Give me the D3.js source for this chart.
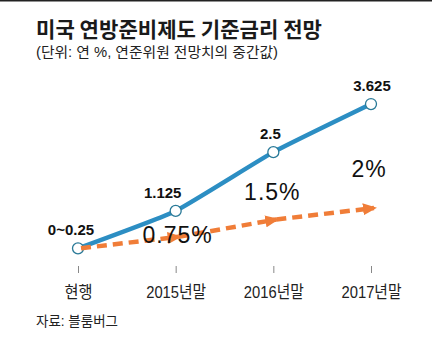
<!DOCTYPE html>
<html>
<head>
<meta charset="utf-8">
<script src="https://cdn.jsdelivr.net/npm/d3@7"></script>
<style>
  body { margin: 0; background: #fff; }
  svg { display: block; }
</style>
</head>
<body>
<svg id="chart" width="432" height="337"></svg>
<script>
// data
var categories = ["현행", "2015년말", "2016년말", "2017년말"];
var fedValues = [0.25, 1.125, 2.5, 3.625];
var fedLabels = ["0~0.25", "1.125", "2.5", "3.625"];
var marketValues = [0.25, 0.75, 1.5, 2];
var marketLabels = ["", "0.75%", "1.5%", "2%"];

var title = "미국 연방준비제도 기준금리 전망";
var subtitle = "(단위: 연 %, 연준위원 전망치의 중간값)";
var source = "자료: 블룸버그";

var svg = d3.select("#chart");
var kfont = "'Liberation Sans', 'Noto Sans CJK KR', sans-serif";
var blue = "#2c8ec3";
var orange = "#f07d38";

svg.append("rect").attr("width", 432).attr("height", 1.5).attr("fill", "#222");

svg.append("text").attr("x", 36).attr("y", 37)
    .attr("textLength", 286).attr("lengthAdjust", "spacingAndGlyphs")
    .style("font-family", "'Noto Sans CJK KR', sans-serif")
    .style("font-weight", "700").style("font-size", "21px").style("fill", "#1a1a1a")
    .text(title);

svg.append("text").attr("x", 36).attr("y", 57)
    .attr("textLength", 242).attr("lengthAdjust", "spacingAndGlyphs")
    .style("font-family", kfont).style("font-size", "14px").style("fill", "#222")
    .text(subtitle);

var x = d3.scalePoint().domain(categories).range([78, 371]);
var y = d3.scaleLinear().domain([0, 4]).range([259, 88]);
var yMarket = d3.scaleLinear().domain([0, 2]).range([254, 208]);

// x axis: ticks only
var xAxis = svg.append("g").attr("transform", "translate(0,266)")
    .call(d3.axisBottom(x).tickSize(7).tickPadding(13));
xAxis.select(".domain").remove();
xAxis.selectAll("line").attr("stroke", "#888");
xAxis.selectAll("text")
    .attr("textLength", (d, i) => i == 0 ? 28 : 60).attr("lengthAdjust", "spacingAndGlyphs")
    .style("font-family", kfont).style("font-size", "17px").style("fill", "#222");

svg.append("text").attr("x", 36).attr("y", 326)
    .attr("textLength", 82).attr("lengthAdjust", "spacingAndGlyphs")
    .style("font-family", kfont).style("font-size", "14px").style("fill", "#222")
    .text(source);

// fed line
var line = d3.line()
    .x((d, i) => x(categories[i]))
    .y(d => y(d))
    .curve(d3.curveCardinal.tension(0.6));

svg.append("path").datum(fedValues)
    .attr("d", line)
    .attr("fill", "none").attr("stroke", blue).attr("stroke-width", 4.5);

svg.selectAll(".pt").data(fedValues).enter().append("circle")
    .attr("class", "pt")
    .attr("cx", (d, i) => x(categories[i]))
    .attr("cy", d => y(d))
    .attr("r", 5.5)
    .attr("fill", "#fff").attr("stroke", "#2a7a98").attr("stroke-width", 1.3);

var fedDx = [-7, -13, -3, 1];
svg.selectAll(".fl").data(fedLabels).enter().append("text")
    .attr("class", "fl")
    .attr("x", (d, i) => x(categories[i]) + fedDx[i])
    .attr("y", (d, i) => y(fedValues[i]) - 13)
    .attr("text-anchor", "middle")
    .style("font-family", kfont).style("font-weight", "700").style("font-size", "15px")
    .style("fill", "#111")
    .text(d => d);

// market expectation arrows
svg.append("defs").append("marker")
    .attr("id", "arrow").attr("markerUnits", "userSpaceOnUse")
    .attr("viewBox", "0 -6 14 12").attr("refX", 11).attr("refY", 0)
    .attr("markerWidth", 14).attr("markerHeight", 12).attr("orient", "auto")
    .append("path").attr("d", "M0,-6L14,0L0,6Z").attr("fill", orange);

var segs = d3.pairs(marketValues.map((v, i) => [x(categories[i]) + 3, yMarket(v)]));
svg.selectAll(".seg").data(segs).enter().append("path")
    .attr("class", "seg")
    .attr("d", d => d3.line()(d))
    .attr("fill", "none").attr("stroke", orange).attr("stroke-width", 4.5)
    .attr("stroke-dasharray", "10,6")
    .attr("marker-end", "url(#arrow)");

var mkDx = [0, 2, -1, -2];
var mkDy = [0, 6, -20, -31];
svg.selectAll(".ml").data(marketLabels).enter().append("text")
    .attr("class", "ml")
    .attr("x", (d, i) => x(categories[i]) + mkDx[i])
    .attr("y", (d, i) => yMarket(marketValues[i]) + mkDy[i])
    .attr("text-anchor", "middle")
    .style("font-family", kfont).style("font-size", "23px").style("letter-spacing", "1px")
    .style("fill", "#111")
    .text(d => d);
</script>
</body>
</html>
